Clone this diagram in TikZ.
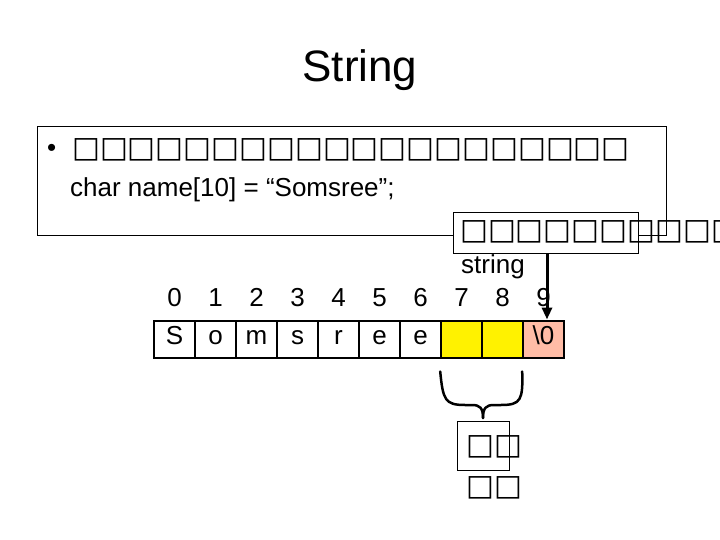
\documentclass[tikz,border=0pt]{standalone}
\usepackage{fontspec}
\setmainfont{Liberation Sans}
\newfontfamily\boxfont{DejaVu Sans}
\usetikzlibrary{arrows.meta}

\begin{document}
\begin{tikzpicture}[
		x=1pt, y=-1pt,
		txt/.style={inner sep=0pt, font=\fontsize{26}{30}\selectfont},
		cell/.style={draw, line width=2pt, minimum width=40.6pt, minimum height=37pt,
			inner sep=0pt, text height=16pt, text depth=6pt, font=\fontsize{26}{30}\selectfont},
		tofu/.style={inner sep=0pt, font=\boxfont\fontsize{29.5}{34}\selectfont},
	]
		\useasboundingbox (0,0) rectangle (720,540);
		\node[txt, font=\fontsize{44}{50}\selectfont] (title) at (360,70) {String};
		% main frame
		\draw (37,126) rectangle (666,235);
		\node[txt, anchor=west] (bullet) at (47,150) {•};
		\node[tofu, anchor=west] (line1) at (72,150) {□□□□□□□□□□□□□□□□□□□□};
		\node[txt, anchor=west] (decl) at (70,190) {char name[10] = “Somsree”;};
		% callout
		\draw[fill=white] (453,212) rectangle (638,253);
		\draw (638,235) -- (666,235);
		\node[tofu, anchor=west] (note) at (460,232) {□□□□□□□□□□};
		\node[txt] (strlbl) at (493,267) {string};
		% cells
		\foreach \c [count=\i from 0] in {S,o,m,s,r,e,e,{},{},\textbackslash0} {
			\pgfmathsetmacro\xx{174.5+\i*41}
			\ifnum\i=7 \def\fc{yellow}\else\ifnum\i=8 \def\fc{yellow}\else
				\ifnum\i=9 \def\fc{red!50!orange!35}\else \def\fc{white}\fi\fi\fi
			\node[cell, fill=\fc] (c\i) at (\xx,339) {\c};
			\node[txt, anchor=base] (n\i) at (\xx,306) {\i};
		}
		\draw[-{Triangle[length=12pt,width=10pt]}, line width=3pt] (547,253) -- (c9.north west -| 547,0);
		% brace
		\draw[line width=2.5pt, line cap=round] (c7.south west) ++(0,13)
			.. controls (443,400) and (445,405) .. (465,405) -- (472,405)
			.. controls (480,405) and (483,408) .. (483,418);
		\draw[line width=2.5pt, line cap=round] (c9.south west) ++(0,13)
			.. controls (523,400) and (521,405) .. (501,405) -- (494,405)
			.. controls (486,405) and (483,408) .. (483,418);
		\draw (457,421) rectangle (509,470);
		\node[tofu] (word1) at (494,447) {□□};
		\node[tofu] (word2) at (494,488) {□□};
	\end{tikzpicture}
\end{document}
